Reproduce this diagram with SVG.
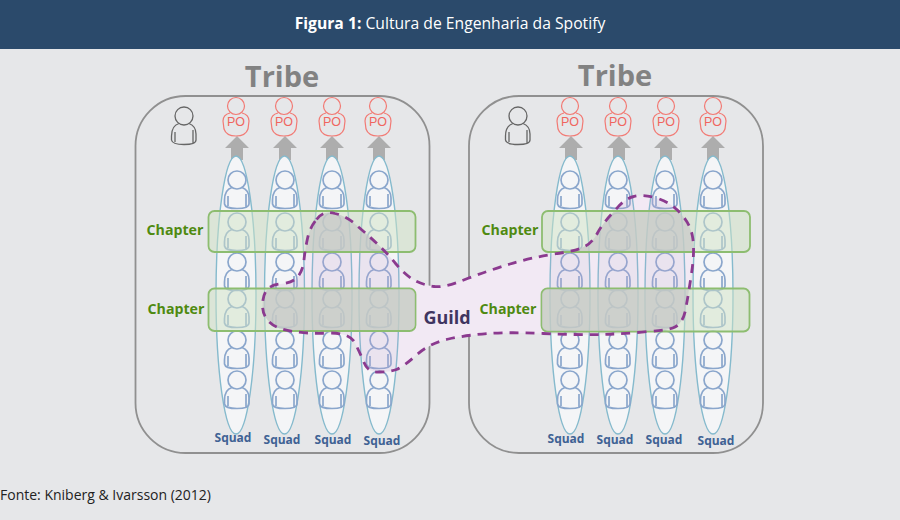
<svg xmlns="http://www.w3.org/2000/svg" width="900" height="520" viewBox="0 0 900 520">
<style>
.f{font-family:"Open Sans","Liberation Sans",sans-serif}
.tribe{fill:none;stroke:#909090;stroke-width:1.8}
.tl{font-size:29px;font-weight:700;fill:#828282;text-anchor:middle}
.squad{fill:#f4f5f7;stroke:#85bacd;stroke-width:1.4}
.tint{fill:#c8a5d4;fill-opacity:.22;stroke:none}
.p{fill:none;stroke:#8aa6cc;stroke-width:1.7}
.po{fill:none;stroke:#f27a74;stroke-width:1.2}
.lead{fill:none;stroke:#666;stroke-width:1.3}
.pot{font-family:"Liberation Sans",sans-serif;font-size:12.5px;fill:#f0655f;text-anchor:middle}
.ch{fill:#cfe3c6;fill-opacity:.5;stroke:#8dbd70;stroke-width:1.8}
.chg{fill:#c4c5c4;fill-opacity:.62;stroke:none}
.cl{font-size:14.200px;font-weight:700;fill:#4f8a10;text-anchor:middle}
.sl{font-size:12px;font-weight:700;fill:#3f6294;text-anchor:middle}
.ar{fill:#adadad}
</style>
<defs>
<path id="g" d="M316.5 219.5Q323 210 335 213.5Q347 216 358.5 227Q370 237 378.5 245Q387 253 396 264Q405 275 414 280Q423 285 434 286.500Q445 288 467.5 278.5Q490 270 510 264Q530 258 553.5 254Q577 251 584.5 246.5Q592 243 597.5 233Q603 223 614 211.5Q625 198 634 196.5Q643 194 656.5 198Q672 203 680 213Q690 223 692.500 236.5Q695 250 691.500 273.5Q688 297 686 307Q684 322 675 327Q670 330 648 331.500Q623 334 600 334.500Q577 335 543.5 333.5Q510 332 488.5 333.5Q467 335 448.5 339Q430 343 416.5 355Q403 367 396.5 369.500Q390 372 380 372Q368 373 364 362.5Q360 353 355 343Q350 333 330 333Q310 334 293.5 331.5Q275 329 268 320.5Q261 313 263 300Q265 285 280 284Q293 283 298 276.5Q303 270 304 260Q305 250 307.5 238.5Q310 227 316.5 219.5Z"/>
<clipPath id="gc"><use href="#g"/></clipPath>
<g id="man"><circle cx="0" cy="0" r="9"/><path d="M-5 7.500C-10 9-12.500 14-12.500 20L-12.500 24C-12 27-8 28.500 0 28.500C8 28.500 12 27 12 24L12 18C12 12 9 9 5 7.500M9 14L9 27M-9 16L-9 26"/></g>
<g id="col"><use href="#man" y="180"/><use href="#man" y="222"/><use href="#man" y="262"/><use href="#man" y="299"/><use href="#man" y="340"/><use href="#man" y="380"/></g>
<g id="pom"><circle cx="0" cy="-16" r="8.500"/><path d="M-6 -9C-10 -8-13 -6-13 -1L-12 7C-10 13-4 14 0 14C4 14 10 13 12 7L13 -1C13 -6 10 -8 6 -9"/></g>
<path id="arrow" d="M-6 160V148H-12L0 136L12 148H6V160Z"/>
</defs>

<rect width="900" height="520" fill="#e6e7e9"/>
<rect id="header-bar" width="900" height="49" fill="#2b4a6b"/>
<text class="f" x="450" y="29" text-anchor="middle" font-size="15.700" fill="#fff"><tspan font-weight="700">Figura 1:</tspan> Cultura de Engenharia da Spotify</text>

<g id="tribe-left"><rect class="tribe" x="135.500" y="96" width="294" height="357" rx="50"/><text class="f tl" x="282" y="87">Tribe</text></g>
<g id="tribe-right"><rect class="tribe" x="469" y="96" width="294" height="357" rx="50"/><text class="f tl" x="615" y="86">Tribe</text></g>

<use id="guild-fill" href="#g" fill="#f2e9f4"/>

<g id="connectors">
<use class="ar" href="#arrow" x="237"/><use class="ar" href="#arrow" x="285"/><use class="ar" href="#arrow" x="332"/><use class="ar" href="#arrow" x="379"/>
<use class="ar" href="#arrow" x="571"/><use class="ar" href="#arrow" x="619"/><use class="ar" href="#arrow" x="666"/><use class="ar" href="#arrow" x="713"/>
</g>

<g id="leads"><use class="lead" href="#man" x="184" y="116"/><use class="lead" href="#man" x="518" y="116"/></g>

<g id="po-left">
<g transform="translate(236,122)"><use class="po" href="#pom"/><text class="pot" y="4">PO</text></g>
<g transform="translate(284,122)"><use class="po" href="#pom"/><text class="pot" y="4">PO</text></g>
<g transform="translate(332,122)"><use class="po" href="#pom"/><text class="pot" y="4">PO</text></g>
<g transform="translate(378,122)"><use class="po" href="#pom"/><text class="pot" y="4">PO</text></g>
</g>
<g id="po-right">
<g transform="translate(570,122)"><use class="po" href="#pom"/><text class="pot" y="4">PO</text></g>
<g transform="translate(618,122)"><use class="po" href="#pom"/><text class="pot" y="4">PO</text></g>
<g transform="translate(666,122)"><use class="po" href="#pom"/><text class="pot" y="4">PO</text></g>
<g transform="translate(713,122)"><use class="po" href="#pom"/><text class="pot" y="4">PO</text></g>
</g>

<g id="squad-l1"><ellipse class="squad" cx="236" cy="295" rx="20" ry="139"/><use class="p" href="#col" x="237"/><text class="f sl" x="233" y="442">Squad</text></g>
<g id="squad-l2"><ellipse class="squad" cx="284.500" cy="295" rx="20" ry="139"/><use class="p" href="#col" x="285"/><text class="f sl" x="282" y="444">Squad</text></g>
<g id="squad-l3"><ellipse class="squad" cx="332" cy="295" rx="20" ry="139"/><use class="p" href="#col" x="332"/><text class="f sl" x="333" y="444">Squad</text></g>
<g id="squad-l4"><ellipse class="squad" cx="379" cy="295" rx="20" ry="139"/><use class="p" href="#col" x="379"/><text class="f sl" x="382" y="445">Squad</text></g>
<g id="squad-r1"><ellipse class="squad" cx="570" cy="295" rx="20" ry="139"/><use class="p" href="#col" x="570"/><text class="f sl" x="566" y="443">Squad</text></g>
<g id="squad-r2"><ellipse class="squad" cx="618" cy="295" rx="20" ry="139"/><use class="p" href="#col" x="618"/><text class="f sl" x="615" y="444">Squad</text></g>
<g id="squad-r3"><ellipse class="squad" cx="665" cy="295" rx="20" ry="139"/><use class="p" href="#col" x="665"/><text class="f sl" x="664" y="444">Squad</text></g>
<g id="squad-r4"><ellipse class="squad" cx="713" cy="295" rx="20" ry="139"/><use class="p" href="#col" x="713"/><text class="f sl" x="716" y="445">Squad</text></g>

<g id="guild-tint" clip-path="url(#gc)">
<ellipse class="tint" cx="284.500" cy="295" rx="20" ry="139"/><ellipse class="tint" cx="332" cy="295" rx="20" ry="139"/><ellipse class="tint" cx="379" cy="295" rx="20" ry="139"/>
<ellipse class="tint" cx="570" cy="295" rx="20" ry="139"/><ellipse class="tint" cx="618" cy="295" rx="20" ry="139"/><ellipse class="tint" cx="665" cy="295" rx="20" ry="139"/>
</g>

<g id="chapter-l1"><rect class="ch" x="208.500" y="211" width="207" height="41" rx="6"/><text class="f cl" x="175" y="235">Chapter</text></g>
<g id="chapter-l2"><rect class="ch" x="208.500" y="288.500" width="207" height="42.500" rx="6"/><text class="f cl" x="176" y="314">Chapter</text></g>
<g id="chapter-r1"><rect class="ch" x="542" y="211" width="208" height="41" rx="6"/><text class="f cl" x="510" y="235">Chapter</text></g>
<g id="chapter-r2"><rect class="ch" x="541.500" y="288.500" width="208" height="43" rx="6"/><text class="f cl" x="508" y="314">Chapter</text></g>

<g id="chapter-guild-overlap" clip-path="url(#gc)">
<rect class="chg" x="209" y="212" width="206" height="39" rx="6"/><rect class="chg" x="209" y="289" width="206" height="41" rx="6"/>
<rect class="chg" x="543" y="212" width="206" height="39" rx="6"/><rect class="chg" x="542" y="289" width="207" height="42" rx="6"/>
</g>

<g id="guild"><use href="#g" fill="none" stroke="#8b3a8f" stroke-width="2.800" stroke-dasharray="9 7"/><text class="f" x="447" y="324" text-anchor="middle" font-size="18" font-weight="700" fill="#3f3560">Guild</text></g>

<text class="f" x="0" y="500" font-size="14" fill="#222">Fonte: Kniberg &amp; Ivarsson (2012)</text>
</svg>
